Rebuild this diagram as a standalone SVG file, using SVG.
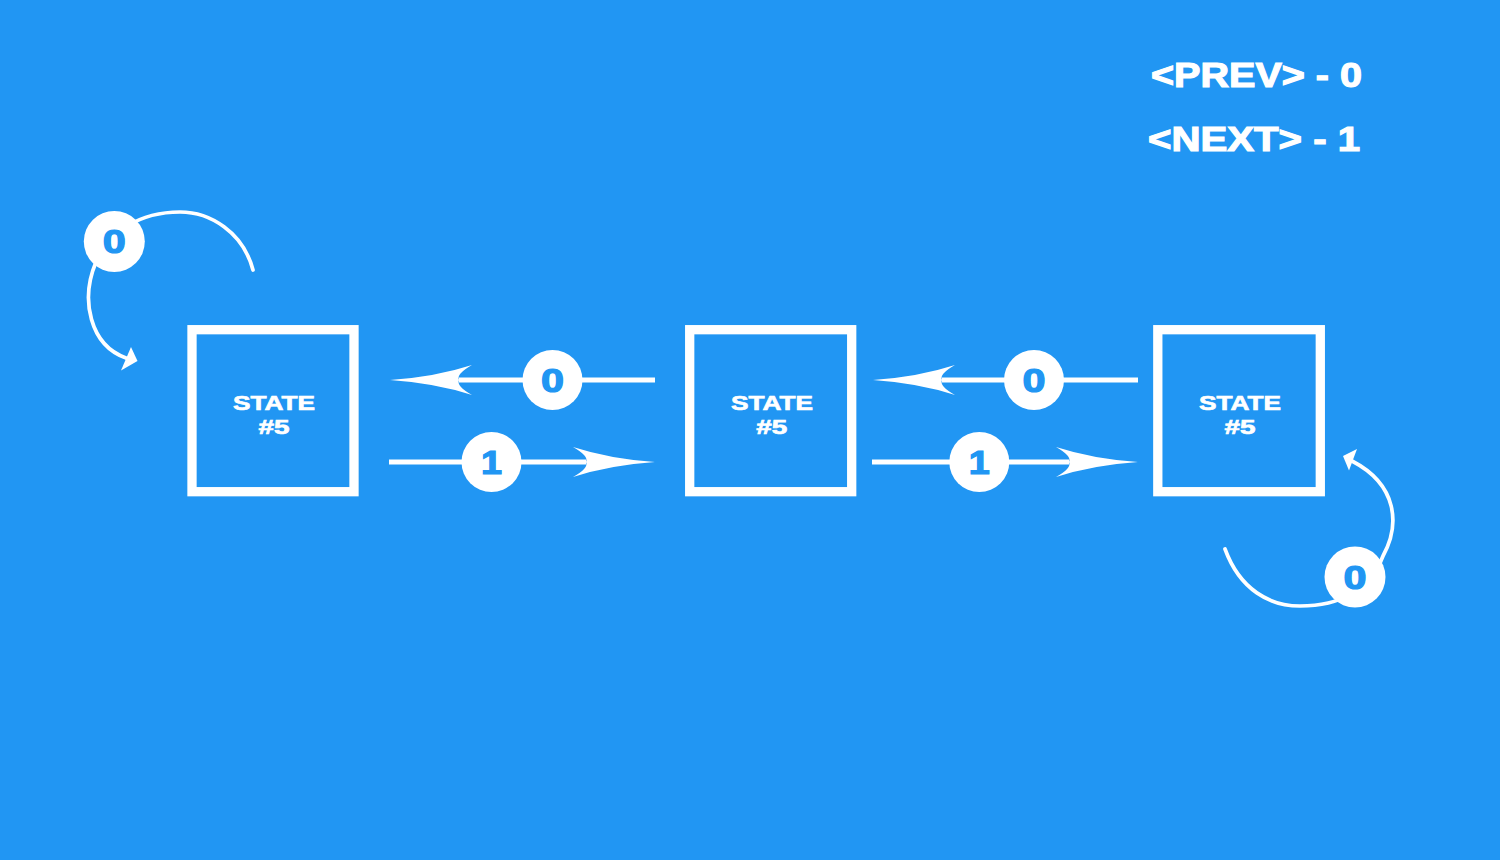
<svg xmlns="http://www.w3.org/2000/svg" width="1500" height="860" viewBox="0 0 1500 860">
  <style>
    .state { fill: none; stroke: #ffffff; stroke-width: 9.3; }
    .state-label { font-family: "Liberation Sans", Arial, sans-serif; font-weight: bold; font-size: 21px; fill: #ffffff; stroke: #ffffff; stroke-width: 0.7; text-anchor: middle; }
    .edge { fill: none; stroke: #ffffff; stroke-width: 5; }
    .loop { fill: none; stroke: #ffffff; stroke-width: 3.7; stroke-linecap: round; }
    .badge { fill: #ffffff; }
    .badge-text { font-family: "Liberation Sans", Arial, sans-serif; font-weight: bold; font-size: 33px; fill: #2196F3; stroke: #2196F3; stroke-width: 1.2; text-anchor: middle; }
    .legend { font-family: "Liberation Sans", Arial, sans-serif; font-weight: bold; font-size: 35px; fill: #ffffff; stroke: #ffffff; stroke-width: 1.2; }
  </style>
  <defs>
    <!-- barbed arrowhead; notch at x=13, tip at x=82 -->
    <marker id="barb" markerUnits="userSpaceOnUse" viewBox="0 -17 90 34" markerWidth="90" markerHeight="34" refX="13" refY="0" orient="auto" overflow="visible">
      <path d="M82,0 Q37,-3 0,-15 Q16,-6 13,0 Q16,6 0,15 Q37,3 82,0 Z" fill="#ffffff"/>
    </marker>
  </defs>

  <rect x="0" y="0" width="1500" height="860" fill="#2196F3"/>

  <!-- legend -->
  <g id="legend">
    <text class="legend" x="1151" y="87" textLength="211" lengthAdjust="spacingAndGlyphs">&lt;PREV&gt; - 0</text>
    <text class="legend" x="1148" y="151" textLength="212" lengthAdjust="spacingAndGlyphs">&lt;NEXT&gt; - 1</text>
  </g>

  <!-- connectors -->
  <g id="connectors">
    <!-- state 1 <-> state 2 -->
    <path class="edge" d="M655,380 L459,380" marker-end="url(#barb)"/>
    <path class="edge" d="M389,462 L586,462" marker-end="url(#barb)"/>
    <!-- state 2 <-> state 3 -->
    <path class="edge" d="M1138,380 L942,380" marker-end="url(#barb)"/>
    <path class="edge" d="M872,462 L1069,462" marker-end="url(#barb)"/>

    <!-- self loop on state 1 -->
    <path class="loop" d="M253,270 C243,232 210,212 180,212 C140,212 108,232 96,262 C80,300 90,345 126,358"/>
    <polygon points="131,347 137.5,361 121,370.5" fill="#ffffff"/>

    <!-- self loop on state 3 -->
    <path class="loop" d="M1225,549 C1240,590 1270,606 1300,606 C1340,606 1370,590 1383,556 C1400,525 1398,485 1352,461"/>
    <polygon points="1343,456 1357,449 1349,470.5" fill="#ffffff"/>

    <!-- edge labels -->
    <circle class="badge" cx="552.5" cy="380" r="30"/>
    <text class="badge-text" x="552.5" y="391.5" textLength="23" lengthAdjust="spacingAndGlyphs">0</text>
    <circle class="badge" cx="491.5" cy="462" r="30"/>
    <text class="badge-text" x="491.5" y="474" textLength="21" lengthAdjust="spacingAndGlyphs">1</text>
    <circle class="badge" cx="1034" cy="380" r="30"/>
    <text class="badge-text" x="1034" y="391.5" textLength="23" lengthAdjust="spacingAndGlyphs">0</text>
    <circle class="badge" cx="979.3" cy="462" r="30"/>
    <text class="badge-text" x="979.3" y="474" textLength="21" lengthAdjust="spacingAndGlyphs">1</text>
    <circle class="badge" cx="114.3" cy="241.5" r="30.5"/>
    <text class="badge-text" x="114.3" y="253" textLength="23" lengthAdjust="spacingAndGlyphs">0</text>
    <circle class="badge" cx="1355" cy="577" r="30.5"/>
    <text class="badge-text" x="1355" y="588.5" textLength="23" lengthAdjust="spacingAndGlyphs">0</text>
  </g>

  <!-- states -->
  <g id="state-1">
    <rect class="state" x="192" y="329.7" width="162" height="162"/>
    <text class="state-label"><tspan x="274" y="410" textLength="82" lengthAdjust="spacingAndGlyphs">STATE</tspan><tspan x="274" y="434" textLength="31" lengthAdjust="spacingAndGlyphs">#5</tspan></text>
  </g>
  <g id="state-2">
    <rect class="state" x="689.7" y="329.7" width="162" height="162"/>
    <text class="state-label"><tspan x="772" y="410" textLength="82" lengthAdjust="spacingAndGlyphs">STATE</tspan><tspan x="771.7" y="434" textLength="31" lengthAdjust="spacingAndGlyphs">#5</tspan></text>
  </g>
  <g id="state-3">
    <rect class="state" x="1157.8" y="329.7" width="162.5" height="162"/>
    <text class="state-label"><tspan x="1240" y="410" textLength="82" lengthAdjust="spacingAndGlyphs">STATE</tspan><tspan x="1240" y="434" textLength="31" lengthAdjust="spacingAndGlyphs">#5</tspan></text>
  </g>
</svg>
